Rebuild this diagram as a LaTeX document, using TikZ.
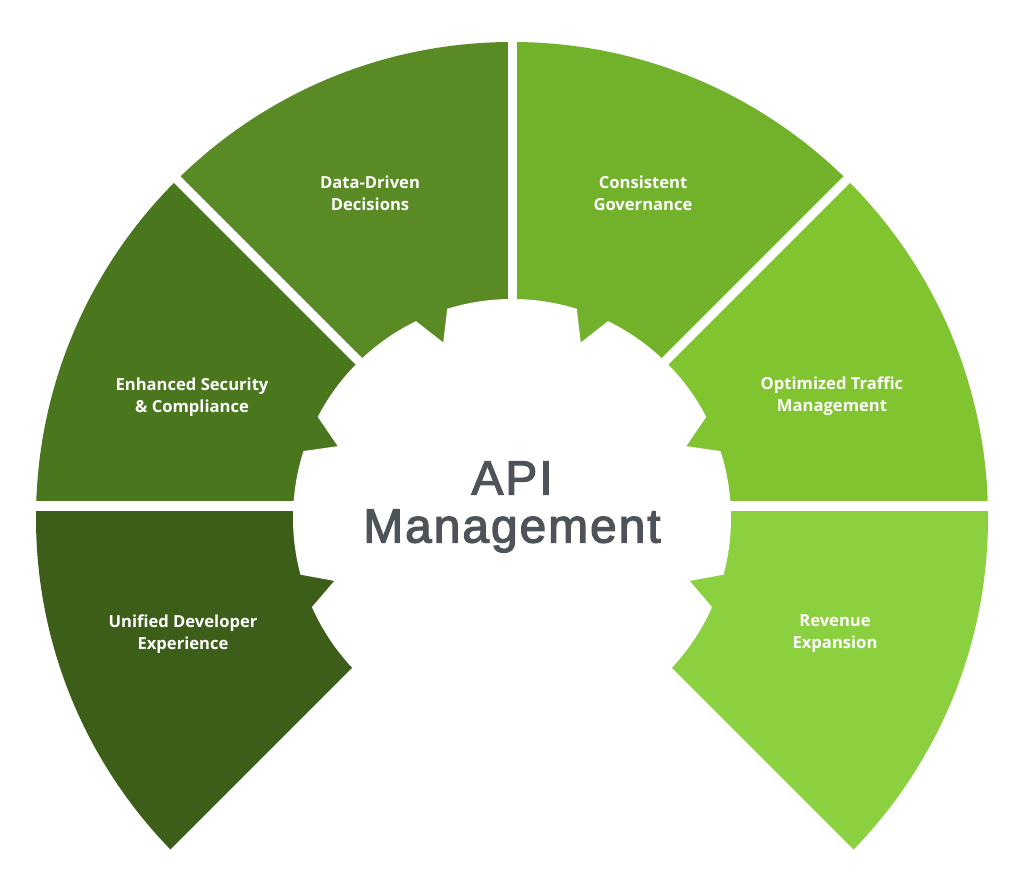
\documentclass[tikz,border=0pt]{standalone}
\usepackage{fontspec}
\setmainfont{Open Sans}
\newfontfamily\titlefont{Liberation Sans}[FakeBold=2.5, LetterSpace=4]
\usepackage{tikz}

\definecolor{revenue}{HTML}{8BD03E}
\definecolor{traffic}{HTML}{80C530}
\definecolor{governance}{HTML}{72B22B}
\definecolor{datadriven}{HTML}{5A8A24}
\definecolor{security}{HTML}{4A771E}
\definecolor{developer}{HTML}{3D5E19}
\definecolor{titlegray}{HTML}{4D5358}

\tikzset{
    segtext/.style={text=white, font=\bfseries\fontsize{8.3}{11}\selectfont, align=center, inner sep=0pt},
    titletext/.style={text=titlegray, font=\titlefont\fontsize{24}{24}\selectfont, align=center, inner sep=0pt},
    gapline/.style={white, line width=4.6pt},
}

\begin{document}
\begin{tikzpicture}[x=0.5pt,y=0.5pt]

\useasboundingbox (0,0) rectangle (1024,882);

\begin{scope}[shift={(512,364)}]

\begin{scope}
    \clip (0,0) circle (476);   % outer rim
    \fill[revenue]    (0,10) -- (700,-690) -- (700,12) -- (0,12) -- cycle; % -45 to 0
    \fill[traffic]    (0,12) -- (700,12) -- (700,703.5) -- (0,3.5) -- cycle; % 0 to 45
    \fill[governance] (0,3.5) -- (700,703.5) -- (0,703.5) -- cycle; % 45 to 90
    \fill[datadriven] (0,3.5) -- (0,703.5) -- (-700,703.5) -- cycle; % 90 to 135
    \fill[security]   (0,3.5) -- (-700,703.5) -- (-700,12) -- (0,12) -- cycle; % 135 to 180
    \fill[developer]  (0,12) -- (-700,12) -- (-700,-690) -- (0,10) -- cycle; % 180 to 225
\end{scope}

    % gear in the middle
    \fill[white] (-60:219) arc[start angle=-60, end angle=-24, radius=219]
        -- (-19.5:188.5) -- (-15:219) arc[start angle=-15, end angle=17.8, radius=219]
        -- (22.4:188.5) -- (27.5:219) arc[start angle=27.5, end angle=64, radius=219]
        -- (68.6:188.5) -- (72.8:219) arc[start angle=72.8, end angle=107.2, radius=219]
        -- (111.4:188.5) -- (116:219) arc[start angle=116, end angle=152.5, radius=219]
        -- (157.6:188.5) -- (162.2:219) arc[start angle=162.2, end angle=195, radius=219]
        -- (199.5:188.5) -- (204:219) arc[start angle=204, end angle=300, radius=219]
        -- cycle;

    % gaps between the segments
    \draw[gapline] (0.5,0) -- (0.5,490);
    \draw[gapline] (-490,12) -- (490,12);
    \draw[gapline] (0,3.5) -- (-480,483.5);
    \draw[gapline] (0,3.5) -- (480,483.5);

\end{scope}

    \node[segtext] (lbl-data) at (370,689) {Data-Driven\\Decisions};
    \node[segtext] (lbl-gov) at (643,689) {Consistent\\Governance};
    \node[segtext] (lbl-sec) at (192,485) {Enhanced Security\\\& Compliance};
    \node[segtext] (lbl-traffic) at (832,486) {Optimized Traffic\\Management};
    \node[segtext] (lbl-dev) at (183,248) {Unified Developer\\Experience};
    \node[segtext] (lbl-rev) at (835,248) {Revenue\\Expansion};

    \node[titletext] (title) at (512,375) {API\\Management};

\end{tikzpicture}
\end{document}
